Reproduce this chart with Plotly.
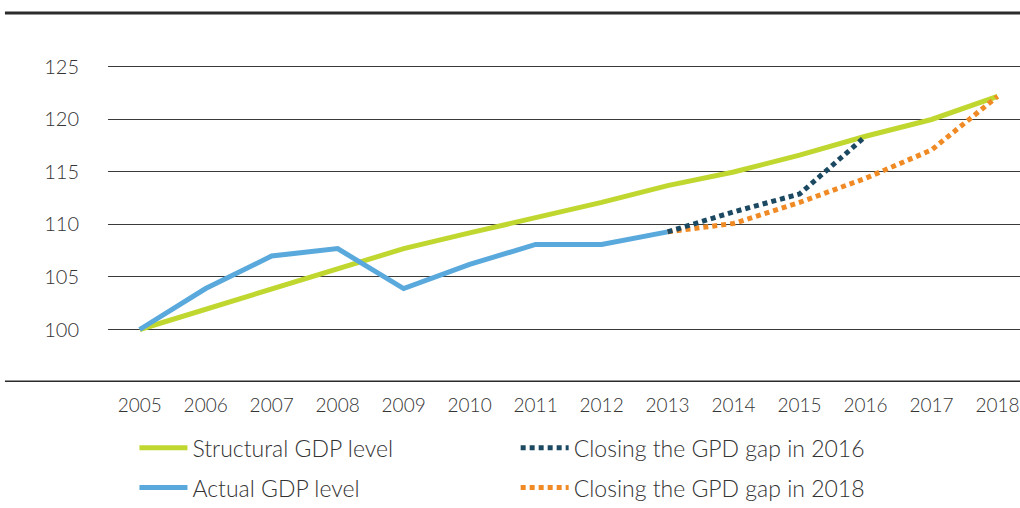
import plotly.graph_objects as go

years = list(range(2005, 2019))
structural = [100, 101.9, 103.9, 105.7, 107.7, 109.2, 110.6, 112.1, 113.7, 115.0, 116.6, 118.4, 120.0, 122.2]
actual = [100, 103.9, 107.0, 107.7, 103.9, 106.2, 108.1, 108.1, 109.3]
close_2016_years = [2013, 2014, 2015, 2016]
close_2016 = [109.3, 111.2, 112.9, 118.4]
close_2018_years = [2013, 2014, 2015, 2016, 2017, 2018]
close_2018 = [109.3, 110.1, 112.1, 114.4, 117.1, 122.2]
y_ticks = [100, 105, 110, 115, 120, 125]

FONT = "Lato, sans-serif"

fig = go.Figure()
fig.add_trace(go.Scatter(x=years, y=structural, mode="lines", name="Structural GDP level",
                         line=dict(color="#c0d72f", width=5), legend="legend", legendgroup="a", legendrank=1))
fig.add_trace(go.Scatter(x=years[:len(actual)], y=actual, mode="lines", name="Actual GDP level",
                         line=dict(color="#5aa9dc", width=5), legend="legend", legendgroup="b", legendrank=2))
fig.add_trace(go.Scatter(x=close_2018_years, y=close_2018, mode="lines", name="Closing the GPD gap in 2018",
                         line=dict(color="#f08a24", width=5, dash="5px,4px"), legend="legend2", legendgroup="d",
                         legendrank=2))
fig.add_trace(go.Scatter(x=close_2016_years, y=close_2016, mode="lines", name="Closing the GPD gap in 2016",
                         line=dict(color="#1c4962", width=5, dash="5px,4px"), legend="legend2", legendgroup="c",
                         legendrank=1))

# thick rules at top and bottom
fig.add_shape(type="line", xref="paper", yref="paper", x0=-0.113, x1=1, y0=1, y1=1,
              line=dict(color="#2b2b2b", width=3))
fig.add_shape(type="line", xref="paper", yref="y", x0=-0.113, x1=1, y0=95, y1=95,
              line=dict(color="#2b2b2b", width=3))

leg = dict(font=dict(family=FONT, size=23, color="#333333", weight=300), bgcolor="rgba(0,0,0,0)",
           yref="container", yanchor="top", y=0.161, xanchor="left", tracegroupgap=7,
           orientation="v", itemwidth=48)
fig.update_layout(
    width=1020, height=508,
    margin=dict(l=108, r=0, t=13, b=126, autoexpand=False),
    plot_bgcolor="white", paper_bgcolor="white",
    font=dict(family=FONT, color="#333333"),
    legend=dict(leg, x=0.029),
    legend2=dict(leg, x=0.447),
    showlegend=True,
)
fig.update_xaxes(range=[2004.52, 2018.34], tickvals=years, showgrid=False, zeroline=False, showline=False,
                 ticks="outside", ticklen=6, tickcolor="rgba(0,0,0,0)", automargin=False,
                 ticklabeloverflow="allow",
                 tickfont=dict(family=FONT, size=19, color="#333333", weight=300))
fig.update_yaxes(range=[95, 130.14], tickvals=y_ticks, showgrid=True, gridcolor="#3a3a3a", gridwidth=1,
                 zeroline=False, showline=False, ticks="outside", ticklen=24, tickcolor="rgba(0,0,0,0)",
                 automargin=False, tickfont=dict(family=FONT, size=20, color="#333333", weight=300))

fig.write_html("out.html", config={"displayModeBar": False},
               post_script="document.body.style.margin = '0px';")
